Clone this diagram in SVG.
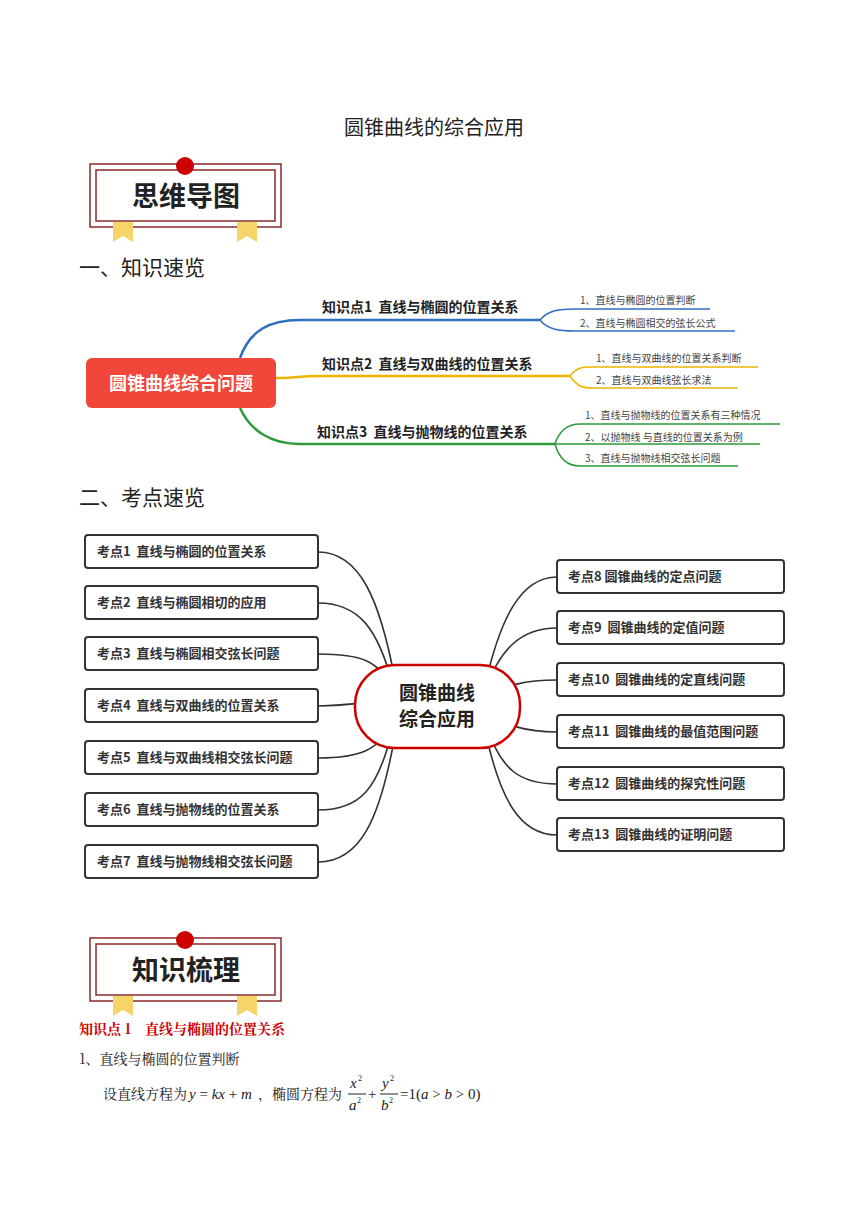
<svg xmlns="http://www.w3.org/2000/svg" width="868" height="1227" viewBox="0 0 868 1227">
<style>
text{font-family:"Noto Sans CJK SC","Noto Sans",sans-serif;fill:#222;white-space:pre}
.b{font-weight:bold}
.box{fill:#fff;stroke:#333;stroke-width:2}
.k{font-size:13px;font-weight:bold;fill:#333}
.s{font-size:10px;fill:#444}
.c{fill:none;stroke:#333;stroke-width:1.6}
text.sr{font-family:"Noto Serif CJK SC","Liberation Serif",serif}
.m text{font-family:"Liberation Serif",serif;font-size:15px}
.i{font-style:italic}
</style>
<rect width="868" height="1227" fill="#fff"/>
<text x="434" y="135" font-size="20" text-anchor="middle">圆锥曲线的综合应用</text>
<g id="banner1">
<rect x="90" y="164" width="191" height="63" fill="#fff" stroke="#8b2a2a" stroke-width="1.5"/>
<rect x="96" y="170" width="179" height="51" fill="#fff" stroke="#8b2a2a" stroke-width="1.5"/>
<circle cx="185" cy="166" r="9" fill="#c00"/>
<path d="M113 222h20v20l-10-6-10 6z" fill="#f5d46a"/><path d="M237 222h20v20l-10-6-10 6z" fill="#f5d46a"/>
<text x="186" y="206" font-size="27" class="b" text-anchor="middle" fill="#111">思维导图</text>
</g>
<text x="79" y="275" font-size="21">一、知识速览</text>
<g id="map1-connectors" fill="none" stroke-width="2.5">
<path d="M240 358C250 330 270 320 300 320H540" stroke="#2f6fc1"/>
<path d="M276 378C290 378 300 376 320 376H570" stroke="#f0b400"/>
<path d="M240 408C250 430 270 444 300 444H555" stroke="#2f9a3a"/>
<path d="M540 320C548 310 560 309 575 309H710M540 320C548 330 560 331 575 331H735" stroke="#2f6fc1" stroke-width="1.5"/>
<path d="M570 376C578 366 585 367 592 367H758M570 376C578 388 585 388 592 388H738" stroke="#f0b400" stroke-width="1.5"/>
<path d="M555 444C560 428 570 424 580 424H780M555 444H760M555 444C560 462 570 466 580 466H738" stroke="#2f9a3a" stroke-width="1.5"/>
</g>
<g id="root1"><rect x="86" y="358" width="190" height="50" rx="6" fill="#f0473a"/>
<text x="181" y="390" font-size="18" class="b" text-anchor="middle" style="fill:#fff">圆锥曲线综合问题</text></g>
<g id="k1"><text x="322" y="312" font-size="14" class="b">知识点1  直线与椭圆的位置关系</text></g>
<g id="k2"><text x="322" y="369" font-size="14" class="b">知识点2  直线与双曲线的位置关系</text></g>
<g id="k3"><text x="317" y="437" font-size="14" class="b">知识点3  直线与抛物线的位置关系</text></g>
<g id="k1s"><text x="580" y="304" class="s">1、直线与椭圆的位置判断</text><text x="580" y="327" class="s">2、直线与椭圆相交的弦长公式</text></g>
<g id="k2s"><text x="596" y="362" class="s">1、直线与双曲线的位置关系判断</text><text x="596" y="384" class="s">2、直线与双曲线弦长求法</text></g>
<g id="k3s"><text x="585" y="419" class="s">1、直线与抛物线的位置关系有三种情况</text><text x="585" y="441" class="s">2、以抛物线 与直线的位置关系为例</text><text x="585" y="462" class="s">3、直线与抛物线相交弦长问题</text></g>
<text x="79" y="505" font-size="21">二、考点速览</text>
<g id="map2-connectors">
<path class="c" d="M395 680C380 600 360 552 318 552M393 685C378 630 360 603 318 603M392 690C380 660 360 654 318 654M390 700C375 700 350 706 318 706M392 722C380 750 360 758 318 758M393 728C378 790 360 810 318 810M395 735C380 820 360 862 318 862"/>
<path class="c" d="M485 685C500 620 520 577 557 577M485 690C500 650 520 628 557 628M486 698C505 685 525 680 557 680M486 712C505 725 525 732 557 732M485 722C500 770 520 784 557 784M485 730C500 800 520 835 557 835"/>
</g>
<g id="center2"><rect x="355" y="665" width="165" height="83" rx="40" fill="#fff" stroke="#c00" stroke-width="2.5"/>
<text x="437" y="700" font-size="19" class="b" text-anchor="middle">圆锥曲线</text><text x="437" y="726" font-size="19" class="b" text-anchor="middle">综合应用</text></g>
<g id="n1"><rect class="box" x="85" y="535" width="233" height="33" rx="3"/><text class="k" x="97" y="556">考点1  直线与椭圆的位置关系</text></g>
<g id="n2"><rect class="box" x="85" y="586" width="233" height="33" rx="3"/><text class="k" x="97" y="607">考点2  直线与椭圆相切的应用</text></g>
<g id="n3"><rect class="box" x="85" y="637" width="233" height="33" rx="3"/><text class="k" x="97" y="658">考点3  直线与椭圆相交弦长问题</text></g>
<g id="n4"><rect class="box" x="85" y="689" width="233" height="33" rx="3"/><text class="k" x="97" y="710">考点4  直线与双曲线的位置关系</text></g>
<g id="n5"><rect class="box" x="85" y="741" width="233" height="33" rx="3"/><text class="k" x="97" y="762">考点5  直线与双曲线相交弦长问题</text></g>
<g id="n6"><rect class="box" x="85" y="793" width="233" height="33" rx="3"/><text class="k" x="97" y="814">考点6  直线与抛物线的位置关系</text></g>
<g id="n7"><rect class="box" x="85" y="845" width="233" height="33" rx="3"/><text class="k" x="97" y="866">考点7  直线与抛物线相交弦长问题</text></g>
<g id="n8"><rect class="box" x="557" y="560" width="227" height="33" rx="3"/><text class="k" x="568" y="581">考点8 圆锥曲线的定点问题</text></g>
<g id="n9"><rect class="box" x="557" y="611" width="227" height="33" rx="3"/><text class="k" x="568" y="632">考点9  圆锥曲线的定值问题</text></g>
<g id="n10"><rect class="box" x="557" y="663" width="227" height="33" rx="3"/><text class="k" x="568" y="684">考点10  圆锥曲线的定直线问题</text></g>
<g id="n11"><rect class="box" x="557" y="715" width="227" height="33" rx="3"/><text class="k" x="568" y="736">考点11  圆锥曲线的最值范围问题</text></g>
<g id="n12"><rect class="box" x="557" y="767" width="227" height="33" rx="3"/><text class="k" x="568" y="788">考点12  圆锥曲线的探究性问题</text></g>
<g id="n13"><rect class="box" x="557" y="818" width="227" height="33" rx="3"/><text class="k" x="568" y="839">考点13  圆锥曲线的证明问题</text></g>
<g id="banner2">
<rect x="90" y="938" width="191" height="63" fill="#fff" stroke="#8b2a2a" stroke-width="1.5"/>
<rect x="96" y="944" width="179" height="51" fill="#fff" stroke="#8b2a2a" stroke-width="1.5"/>
<circle cx="185" cy="940" r="9" fill="#c00"/>
<path d="M113 996h20v20l-10-6-10 6z" fill="#f5d46a"/><path d="M237 996h20v20l-10-6-10 6z" fill="#f5d46a"/>
<text x="186" y="980" font-size="27" class="b" text-anchor="middle" fill="#111">知识梳理</text>
</g>
<text x="79" y="1034" font-size="14" class="b sr" style="fill:#c00">知识点 1    直线与椭圆的位置关系</text>
<text x="79" y="1064" font-size="14" class="sr">1、直线与椭圆的位置判断</text>
<text x="103" y="1099" font-size="14" class="sr">设直线方程为</text>
<g class="m">
<text x="189" y="1099"><tspan class="i">y</tspan> = <tspan class="i">kx</tspan> + <tspan class="i">m</tspan></text>
</g>
<text x="258" y="1099" font-size="14" class="sr">，椭圆方程为</text>
<g class="m">
<text x="350" y="1088" class="i">x</text><text x="358" y="1081" style="font-size:8px">2</text>
<text x="349" y="1110" class="i">a</text><text x="357" y="1103" style="font-size:8px">2</text>
<line x1="348" y1="1094" x2="366" y2="1094" stroke="#222"/>
<text x="368" y="1099">+</text>
<text x="382" y="1088" class="i">y</text><text x="390" y="1081" style="font-size:8px">2</text>
<text x="381" y="1110" class="i">b</text><text x="389" y="1103" style="font-size:8px">2</text>
<line x1="380" y1="1094" x2="398" y2="1094" stroke="#222"/>
<text x="400" y="1099">=1(<tspan class="i">a</tspan> &gt; <tspan class="i">b</tspan> &gt; 0)</text>
</g>
</svg>
